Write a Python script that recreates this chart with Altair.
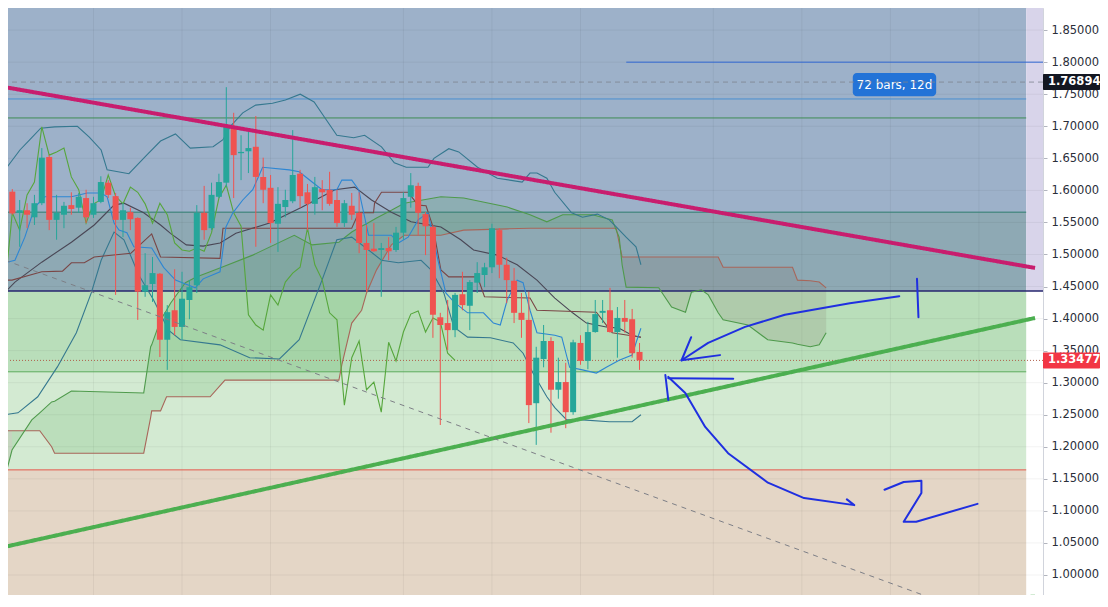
import altair as alt
import pandas as pd

# ---------------- candles (4h bars) ----------------
opens  = [1.598,1.565,1.569,1.558,1.580,1.652,1.554,1.562,1.577,1.573,
          1.588,1.562,1.582,1.612,1.591,1.554,1.566,1.557,1.442,1.454,
          1.470,1.367,1.413,1.387,1.429,1.452,1.565,1.541,1.590,1.612,
          1.697,1.658,1.661,1.668,1.621,1.604,1.548,1.574,1.583,1.626,
          1.597,1.579,1.602,1.601,1.585,1.549,1.576,1.565,1.518,1.509,
          1.507,1.510,1.507,1.534,1.590,1.607,1.563,1.543,1.402,1.393,
          1.382,1.438,1.420,1.456,1.468,1.480,1.538,1.484,1.459,1.409,
          1.398,1.268,1.337,1.365,1.289,1.301,1.254,1.362,1.334,1.379,
          1.409,1.413,1.379,1.401,1.399,1.348]
highs  = [1.602,1.585,1.580,1.593,1.666,1.655,1.593,1.582,1.597,1.596,
          1.601,1.590,1.622,1.616,1.596,1.580,1.573,1.558,1.502,1.496,
          1.471,1.421,1.477,1.473,1.460,1.577,1.607,1.612,1.626,1.761,
          1.721,1.686,1.694,1.716,1.651,1.624,1.605,1.601,1.694,1.632,
          1.610,1.621,1.616,1.629,1.601,1.585,1.596,1.597,1.546,1.549,
          1.518,1.527,1.543,1.597,1.627,1.612,1.566,1.546,1.409,1.429,
          1.440,1.473,1.460,1.488,1.487,1.548,1.541,1.495,1.479,1.440,
          1.442,1.356,1.390,1.371,1.339,1.331,1.367,1.374,1.395,1.429,
          1.429,1.448,1.418,1.429,1.415,1.362]
lows   = [1.562,1.512,1.541,1.546,1.577,1.538,1.523,1.541,1.562,1.565,
          1.549,1.557,1.580,1.588,1.437,1.527,1.538,1.398,1.434,1.426,
          1.340,1.320,1.374,1.367,1.399,1.440,1.523,1.538,1.588,1.605,
          1.588,1.616,1.627,1.512,1.580,1.518,1.504,1.558,1.580,1.573,
          1.538,1.562,1.569,1.576,1.543,1.543,1.554,1.502,1.442,1.504,
          1.434,1.491,1.504,1.523,1.573,1.530,1.499,1.370,1.234,1.351,
          1.371,1.413,1.382,1.440,1.449,1.471,1.463,1.424,1.393,1.370,
          1.237,1.203,1.324,1.222,1.275,1.229,1.250,1.328,1.321,1.378,
          1.393,1.378,1.339,1.378,1.339,1.320]
closes = [1.564,1.569,1.562,1.580,1.651,1.554,1.565,1.576,1.571,1.590,
          1.558,1.580,1.613,1.593,1.554,1.569,1.555,1.442,1.452,1.471,
          1.367,1.410,1.387,1.431,1.449,1.565,1.538,1.593,1.613,1.699,
          1.655,1.660,1.666,1.621,1.601,1.549,1.579,1.585,1.624,1.591,
          1.579,1.605,1.597,1.579,1.549,1.580,1.562,1.518,1.507,1.505,
          1.510,1.505,1.534,1.588,1.608,1.565,1.544,1.406,1.390,1.382,
          1.437,1.421,1.457,1.471,1.480,1.541,1.484,1.460,1.409,1.398,
          1.265,1.339,1.365,1.289,1.301,1.254,1.363,1.334,1.379,1.407,
          1.412,1.379,1.401,1.395,1.346,1.33477]
chikou_shift = 25  # lagging span plotted 25 bars back

# ---------------- indicator lines (bar index, price) ----------------
bbu_i = [-0.98,1.03,2.38,3.85,5.73,8.82,10.43,12.04,12.85,15.8,18.21,20.09,22.11,24.12,27.21,28.55,29.49,
         31.23,32.98,35.26,37.01,39.02,40.9,42.38,43.98,46.27,47.74,50.03,51.77,53.38,56.34,57.14,59.15,
         60.5,63.05,65.73,69.09,70.16,71.1,72.44,73.5,75.8,77.27,79.29,80.9,81.84,83.18,84.52,85.19]
bbu_p = [1.632,1.663,1.679,1.697,1.699,1.700,1.683,1.663,1.632,1.626,1.655,1.677,1.688,1.666,1.668,1.679,1.699,
         1.721,1.733,1.736,1.741,1.750,1.738,1.713,1.686,1.682,1.686,1.668,1.643,1.636,1.636,1.650,1.665,
         1.660,1.636,1.619,1.613,1.627,1.627,1.619,1.597,1.565,1.558,1.563,1.554,1.543,1.527,1.512,1.484]
bbl_i = [-0.98,0.77,3.45,6.13,8.68,10.7,12.04,13.79,15.13,17.14,19.15,21.17,22.78,28.15,32.17,36.2,38.88,
         41.97,43.98,46.0,48.28,50.03,52.31,55.4,56.74,58.48,59.83,61.7,64.79,67.88,69.22,70.56,72.44,
         73.52,75.13,77.27,80.9,83.99,85.19]
bbl_p = [1.250,1.253,1.278,1.325,1.378,1.440,1.491,1.535,1.523,1.468,1.429,1.382,1.367,1.359,1.339,1.337,1.367,
         1.460,1.523,1.527,1.507,1.491,1.487,1.491,1.476,1.440,1.387,1.371,1.370,1.362,1.346,1.315,1.278,
         1.261,1.242,1.242,1.239,1.239,1.250]
sma_i = [-0.98,0.36,3.99,8.01,11.1,13.79,15.13,17.81,20.09,21.44,23.58,25.87,28.15,30.3,34.86,39.29,43.72,
         46.4,48.68,51.37,54.05,58.08,60.77,62.51,65.73,68.42,71.1,73.52,75.93,77.81,80.5,82.24,83.99,85.19]
sma_p = [1.441,1.457,1.488,1.519,1.546,1.577,1.580,1.565,1.546,1.533,1.515,1.513,1.518,1.533,1.549,1.574,1.601,
         1.605,1.585,1.566,1.551,1.543,1.523,1.507,1.499,1.484,1.460,1.432,1.409,1.393,1.387,1.385,1.374,1.371]
tenkan_i = [-0.98,0.36,1.70,3.05,4.39,8.01,10.16,12.04,12.85,13.79,14.46,15.53,16.47,18.89,20.5,22.11,24.79,
            25.87,28.15,28.95,29.89,31.23,32.58,33.92,37.54,38.88,40.63,41.97,43.98,44.66,46.0,46.94,48.28,
            51.37,52.31,53.65,54.99,56.34,57.68,58.75,59.83,61.7,63.85,65.2,66.13,67.07,68.42,69.22,70.16,
            71.1,73.52,74.46,75.53,77.27,79.15,80.5,82.24,83.99,84.66,85.19]
tenkan_p = [1.487,1.491,1.527,1.574,1.590,1.590,1.596,1.596,1.590,1.549,1.538,1.534,1.512,1.510,1.480,1.460,1.448,
            1.462,1.473,1.543,1.565,1.585,1.601,1.636,1.632,1.629,1.613,1.601,1.601,1.616,1.616,1.601,1.530,
            1.530,1.518,1.527,1.554,1.565,1.491,1.440,1.426,1.409,1.409,1.393,1.390,1.429,1.460,1.456,1.413,
            1.378,1.374,1.371,1.324,1.320,1.315,1.324,1.335,1.343,1.367,1.385]
kijun_i = [-0.98,-0.04,3.99,6.8,8.01,9.76,11.1,16.07,18.89,20.09,28.15,28.55,46.0,46.94,48.95,49.09,50.03,
           53.65,54.99,56.07,57.01,58.08,59.15,63.05,63.99,70.16,71.1,79.15,81.3,85.19]
kijun_p = [1.460,1.460,1.473,1.474,1.487,1.487,1.496,1.502,1.532,1.496,1.494,1.541,1.541,1.565,1.565,1.580,1.597,
           1.597,1.577,1.576,1.543,1.476,1.465,1.465,1.434,1.432,1.413,1.410,1.378,1.371]
cloud_i = [-0.98,-0.04,2.64,3.72,5.33,5.73,8.01,17.81,18.75,18.89,20.09,20.9,21.44,23.45,24.93,26.81,28.82,
           32.58,38.21,40.63,44.26,44.66,46.0,47.34,48.01,49.36,51.37,53.11,58.08,61.17,67.07,70.16,72.44,
           74.59,78.62,81.3,81.84,82.24,82.64,83.18,87.6,89.35,91.23,92.03,93.38,94.32,95.66,96.33,99.69,
           102.37,105.73,106.4,108.14,109.35,110.29]
span_a = [1.153,1.195,1.242,1.253,1.270,1.271,1.287,1.284,1.356,1.359,1.398,1.413,1.424,1.456,1.465,1.473,1.482,
          1.499,1.530,1.515,1.519,1.523,1.535,1.544,1.548,1.557,1.569,1.580,1.590,1.588,1.574,1.562,1.551,
          1.562,1.562,1.554,1.538,1.527,1.484,1.449,1.448,1.418,1.410,1.441,1.445,1.437,1.409,1.398,1.390,
          1.367,1.362,1.360,1.356,1.359,1.378]
span_b = [1.225,1.225,1.225,1.225,1.200,1.190,1.190,1.190,1.246,1.256,1.256,1.278,1.278,1.278,1.278,1.278,1.304,
          1.304,1.304,1.304,1.304,1.328,1.393,1.413,1.440,1.476,1.515,1.530,1.530,1.538,1.540,1.541,1.541,
          1.541,1.541,1.541,1.541,1.518,1.496,1.496,1.496,1.496,1.496,1.496,1.496,1.496,1.496,1.480,1.480,
          1.480,1.480,1.460,1.459,1.457,1.448]

# ---------------- drawings ----------------
zone_lo = [1.443, 1.443, 1.317, 1.164, 0.900]
zone_hi = [2.000, 1.566, 1.443, 1.317, 1.164]
zone_right = 137.4
hlines_p = [1.800, 1.7426, 1.713, 1.566, 1.443, 1.317, 1.164]
hlines_from = [83.2, -5, -5, -5, -5, -5, -5]
hlines_to = [150, 137.4, 137.4, 137.4, 150, 137.4, 137.4]
marked_prices = [1.76894, 1.33477]
trend_i = [[-0.98, 138.6], [-0.98, 138.6], [82.24, 138.6], [-0.98, 127.9]]
trend_p = [[1.761, 1.479], [1.044, 1.401], [0.953, 0.966], [1.491, 0.950]]
grid_x = [11, 23, 35, 53, 65, 77, 95, 107, 119, 131]
y_ticks = [1.00, 1.05, 1.10, 1.15, 1.20, 1.25, 1.30, 1.35, 1.40, 1.45,
           1.50, 1.55, 1.60, 1.65, 1.70, 1.75, 1.80, 1.85]
measure_text = "72 bars, 12d"
measure_box = [113.9, 125.2, 1.747, 1.783]

# hand-drawn strokes (bar index, price)
strokes = {
    "arrow1": ([120.2, 113.5, 104.7, 99.3, 94.3, 90.7], [1.435, 1.424, 1.406, 1.387, 1.362, 1.335]),
    "head1a": ([90.7, 92.0], [1.335, 1.371]),
    "head1b": ([90.7, 95.9], [1.335, 1.343]),
    "one":    ([122.6, 122.8], [1.462, 1.402]),
    "arrow2": ([97.7, 88.9], [1.306, 1.307]),
    "head2":  ([88.5, 88.9], [1.312, 1.273]),
    "curve2": ([88.9, 91.2, 93.9, 97.0, 102.4, 107.3, 114.1, 113.1],
               [1.309, 1.284, 1.231, 1.190, 1.144, 1.120, 1.109, 1.118]),
    "two":    ([118.2, 120.8, 123.2, 123.2, 120.8, 122.5, 130.8],
               [1.133, 1.145, 1.147, 1.128, 1.083, 1.083, 1.111]),
}

# ---------------- styles ----------------
FONT = "DejaVu Sans"
zone_colors = ["#9db1c9", "#8ea9b4", "#b9deba", "#d3eAd2", "#e4d6c6"]
hline_colors = ["#2f68d4", "#4a8fd2", "#3f8c55", "#2e7d6e", "#26266e", "#5aab5a", "#e0584a"]
hline_widths = [1, 1, 1, 1, 1.6, 1, 1]
trend_colors = ["#c81d6e", "#4caf50", "#4caf50", "#7d7f86"]
trend_widths = [4, 4, 4, 1]
trend_dash = [[1, 0], [1, 0], [1, 0], [5, 5]]
candle_up, candle_down = "#26a69a", "#ef5350"
cloud_up, cloud_down = "#3f9f45", "#7a6a60"

XS = alt.Scale(domain=[0.094, 139.0], nice=False, zero=False)
YS = alt.Scale(domain=[0.9688, 1.8845], nice=False, zero=False)
YAXIS = alt.Axis(orient="right", values=y_ticks, format=".5f", title=None, grid=False,
                 labelFont=FONT, labelFontSize=11.5, labelColor="#2a2e39", labelPadding=4,
                 tickColor="#b2b5be", tickSize=4, domainColor="#d1d4dc", labelOverlap=False,
                 labelBound=False, labelFlush=False)


def X(f):
    return alt.X(f"{f}:Q", scale=XS, axis=None)


def Y(f):
    return alt.Y(f"{f}:Q", scale=YS, axis=YAXIS)


layers = []

# zones
zones = pd.DataFrame({"x1": -5, "x2": zone_right, "lo": zone_lo, "hi": zone_hi, "col": zone_colors})
layers.append(alt.Chart(zones).mark_rect(clip=True).encode(
    x=X("x1"), x2="x2", y=Y("lo"), y2="hi", color=alt.Color("col:N", scale=None)))
lav = pd.DataFrame({"x1": [zone_right], "x2": [150], "lo": [1.443], "hi": [2.0]})
layers.append(alt.Chart(lav).mark_rect(clip=True, color="#d8d4ea").encode(
    x=X("x1"), x2="x2", y=Y("lo"), y2="hi"))

# grid
layers.append(alt.Chart(pd.DataFrame({"g": grid_x})).mark_rule(color="#000000", opacity=0.05).encode(x=X("g")))
layers.append(alt.Chart(pd.DataFrame({"g": y_ticks})).mark_rule(color="#000000", opacity=0.05, clip=True).encode(y=Y("g")))

# cloud fill
cl = pd.DataFrame({"i": cloud_i, "a": span_a, "b": span_b})
rows, seg, prev = [], 0, None
for r in cl.to_dict("records"):
    r["col"] = cloud_up if r["a"] >= r["b"] else cloud_down
    if prev is not None and r["col"] != prev["col"]:
        seg += 1
        rows.append({**prev, "col": r["col"], "seg": seg})
    rows.append({**r, "seg": seg})
    prev = r
cloud = pd.DataFrame(rows)
layers.append(alt.Chart(cloud).mark_area(clip=True, opacity=0.16).encode(
    x=X("i"), y=Y("a"), y2="b", detail="seg:N", color=alt.Color("col:N", scale=None)))

# horizontal lines
hl = pd.DataFrame({"p": hlines_p, "x1": hlines_from, "x2": hlines_to, "col": hline_colors, "w": hline_widths})
layers.append(alt.Chart(hl).mark_rule(clip=True).encode(
    x=X("x1"), x2="x2", y=Y("p"), color=alt.Color("col:N", scale=None),
    strokeWidth=alt.StrokeWidth("w:Q", scale=None)))
layers.append(alt.Chart(pd.DataFrame({"p": [marked_prices[1]]})).mark_rule(
    clip=True, color="#b0604a", strokeDash=[1, 2], strokeWidth=1).encode(y=Y("p")))


def line_layer(xs, ps, color, width=1.1):
    df = pd.DataFrame({"i": xs, "p": ps})
    return alt.Chart(df).mark_line(clip=True, color=color, strokeWidth=width).encode(x=X("i"), y=Y("p"))


layers.append(line_layer(cloud_i, span_b, "#a8665a"))
layers.append(line_layer(cloud_i, span_a, "#4f9a4c"))
layers.append(line_layer(bbu_i, bbu_p, "#35788f"))
layers.append(line_layer(bbl_i, bbl_p, "#35788f"))
layers.append(line_layer(sma_i, sma_p, "#4a4756"))
layers.append(line_layer(kijun_i, kijun_p, "#7a4646"))
layers.append(line_layer([k - chikou_shift for k in range(len(closes))], closes, "#56a63c"))
layers.append(line_layer(tenkan_i, tenkan_p, "#2d86d3"))

# candles
cd = pd.DataFrame({"i": list(range(len(opens))), "o": opens, "h": highs, "l": lows, "c": closes})
cd["col"] = [candle_up if c >= o else candle_down for o, c in zip(opens, closes)]
ccol = alt.Color("col:N", scale=None)
layers.append(alt.Chart(cd).mark_rule(clip=True, strokeWidth=1).encode(x=X("i"), y=Y("l"), y2="h", color=ccol))
layers.append(alt.Chart(cd).mark_bar(clip=True, size=6).encode(x=X("i"), y=Y("o"), y2="c", color=ccol))

# trend lines
for ti, tp, col, w, dash in zip(trend_i, trend_p, trend_colors, trend_widths, trend_dash):
    df = pd.DataFrame({"i": ti, "p": tp})
    layers.append(alt.Chart(df).mark_line(clip=True, color=col, strokeWidth=w, strokeDash=dash).encode(
        x=X("i"), y=Y("p")))

# measurement label
mb = pd.DataFrame({"x1": [measure_box[0]], "x2": [measure_box[1]], "lo": [measure_box[2]], "hi": [measure_box[3]],
                   "t": [measure_text], "xm": [(measure_box[0] + measure_box[1]) / 2],
                   "pm": [(measure_box[2] + measure_box[3]) / 2]})
layers.append(alt.Chart(mb).mark_rect(clip=True, color="#2373d7", cornerRadius=4).encode(
    x=X("x1"), x2="x2", y=Y("lo"), y2="hi"))
layers.append(alt.Chart(mb).mark_text(clip=True, color="white", fontSize=12, font=FONT).encode(
    x=X("xm"), y=Y("pm"), text="t:N"))
layers.append(alt.Chart(pd.DataFrame({"p": [marked_prices[0]]})).mark_rule(
    clip=True, color="#7d8590", strokeDash=[5, 4], strokeWidth=1, opacity=0.8).encode(y=Y("p")))

# hand-drawn strokes
srows = []
for name, (xs, ps) in strokes.items():
    for k, (xv, pv) in enumerate(zip(xs, ps)):
        srows.append({"s": name, "k": k, "i": xv, "p": pv})
layers.append(alt.Chart(pd.DataFrame(srows)).mark_line(
    clip=True, color="#1f2fe0", strokeWidth=2, strokeCap="round", strokeJoin="round").encode(
    x=X("i"), y=Y("p"), detail="s:N", order="k:Q"))

# price badges on the scale
pb = pd.DataFrame({"p": marked_prices, "t": ["%.5f" % v for v in marked_prices],
                   "bg": ["#131722", "#f23645"]})
pb["p1"] = pb["p"] + 0.0125
pb["p2"] = pb["p"] - 0.0125
layers.append(alt.Chart(pb).mark_rect(clip=False, cornerRadius=1).encode(
    x=alt.value(1035), x2=alt.value(1092), y=Y("p1"), y2="p2", color=alt.Color("bg:N", scale=None)))
layers.append(alt.Chart(pb).mark_text(clip=False, color="white", fontSize=11.5, font=FONT,
                                      fontWeight="bold", align="left").encode(
    x=alt.value(1040), y=Y("p"), text="t:N"))

chart = alt.layer(*layers).properties(
    width=1035, height=587,
    autosize=alt.AutoSizeParams(type="none"),
    padding={"left": 0, "top": 0, "right": 57, "bottom": 0},
).configure_view(stroke=None).configure(background="white")

chart.save("out.html", embed_options={"renderer": "svg", "actions": False})
